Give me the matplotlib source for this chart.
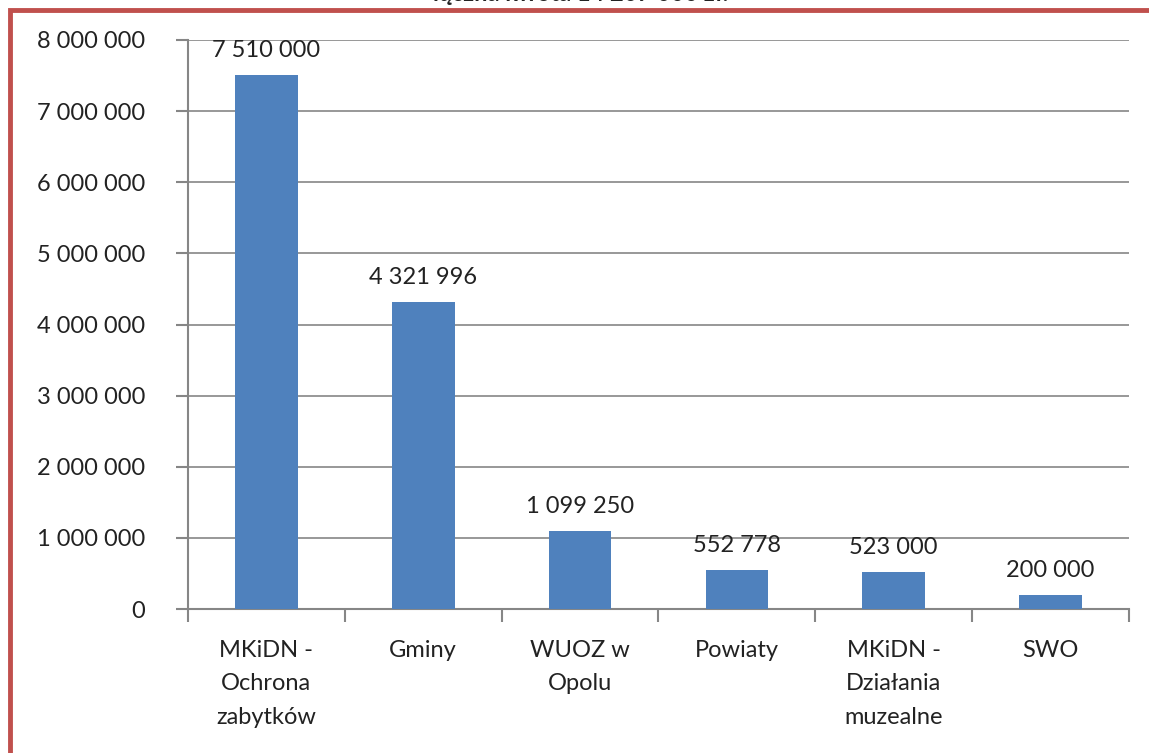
import matplotlib.pyplot as plt
from matplotlib.patches import Rectangle
from matplotlib.ticker import FuncFormatter, MultipleLocator

categories = [
    "MKiDN -\nOchrona\nzabytków",
    "Gminy",
    "WUOZ w\nOpolu",
    "Powiaty",
    "MKiDN -\nDziałania\nmuzealne",
    "SWO",
]
values = [7510000, 4321996, 1099250, 552778, 523000, 200000]
title = "łączna kwota 14 207 000 zł."

bar_color = "#4F81BD"
grid_color = "#868686"
frame_color = "#C0504D"


def spaced(v, pos=None):
    return f"{int(v):,}".replace(",", " ")


plt.rcParams["font.family"] = ["Lato", "DejaVu Sans"]

fig = plt.figure(figsize=(11.49, 7.53), dpi=100)
ax = fig.add_axes([0.1636, 0.1912, 0.819, 0.7557])

x = list(range(len(values)))
ax.bar(x, values, width=0.4, color=bar_color, zorder=3)
for xi, v in zip(x, values):
    ax.annotate(spaced(v), (xi, v), xytext=(0, 10), textcoords="offset points",
                ha="center", va="bottom", fontsize=17, color="#222222")

ax.set_xlim(-0.5, len(values) - 0.5)
ax.set_ylim(0, 8000000)
ax.yaxis.set_major_locator(MultipleLocator(1000000))
ax.yaxis.set_major_formatter(FuncFormatter(spaced))
ax.grid(axis="y", color=grid_color, linewidth=1.2, zorder=0)

ax.set_xticks([i - 0.5 for i in range(len(values) + 1)])
ax.set_xticklabels([])
ax.set_xticks(x, minor=True)
ax.set_xticklabels(categories, minor=True, fontsize=17, color="#222222",
                   linespacing=1.75, va="top")
ax.tick_params(axis="x", which="minor", length=0, pad=22)
ax.tick_params(axis="x", which="major", length=9, width=1.5, color=grid_color, direction="out")
ax.tick_params(axis="y", length=9, width=1.5, color=grid_color, labelsize=17,
               labelcolor="#222222", pad=22)

for side in ["top", "right"]:
    ax.spines[side].set_visible(False)
for side in ["left", "bottom"]:
    ax.spines[side].set_color(grid_color)
    ax.spines[side].set_linewidth(1.5)

# red frame around the chart area (partly off the image)
fig.patches.append(Rectangle((10 / 1149, -0.1), 1.2, 1 - 10.5 / 753 + 0.1,
                             transform=fig.transFigure, fill=False,
                             edgecolor=frame_color, linewidth=3.5))

# title sits mostly above the visible area, as in the source picture
fig.text(0.505, 1.009, title, ha="center", va="center", fontsize=17,
         fontweight="bold", color="#222222")

fig.savefig("out.png", dpi=100)
